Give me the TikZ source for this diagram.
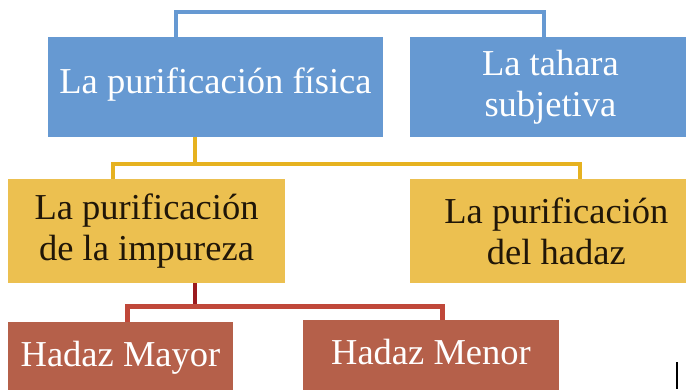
\documentclass[tikz,border=0pt]{standalone}
\usepackage{fontspec}
\setmainfont{Liberation Serif}
\usepackage{tikz}
\usetikzlibrary{positioning}

\definecolor{boxblue}{RGB}{102,153,210}
\definecolor{boxyellow}{RGB}{236,192,80}
\definecolor{lineyellow}{RGB}{230,178,32}
\definecolor{boxred}{RGB}{181,96,74}
\definecolor{linered}{RGB}{192,72,58}
\definecolor{stemred}{RGB}{155,26,30}
\definecolor{darktext}{RGB}{32,22,8}

\begin{document}
\begin{tikzpicture}[x=1pt, y=-1pt,
        box/.style={rectangle, inner sep=0pt, align=center, font=\fontsize{36.5}{40.7}\selectfont},
        bluebox/.style={box, fill=boxblue, text=white, minimum height=100pt},
        yellowbox/.style={box, fill=boxyellow, text=darktext, minimum height=104pt},
        redbox/.style={box, fill=boxred, text=white, text height=25pt, text depth=8pt},
        bluelink/.style={draw=boxblue, line width=4.8pt},
        yellowlink/.style={draw=lineyellow, line width=4.5pt},
        redlink/.style={draw=linered, line width=5pt}]
        \useasboundingbox (0,0) rectangle (686,389);
        \clip (0,0) rectangle (686,389);

        \node[bluebox, minimum width=335pt, text height=25pt, text depth=13pt] (fisica) at (215.5,87) {La purificación física};
        \node[bluebox, minimum width=280pt, right=27pt of fisica] (tahara) {La tahara\\subjetiva};
        \node[yellowbox, minimum width=277pt] (impureza) at (146.5,231) {La purificación\\de la impureza};
        \node[yellowbox, minimum width=292pt, right=125pt of impureza] (hadaz) {La purificación\\del hadaz};
        \node[redbox, minimum width=225pt, minimum height=72.4pt] (mayor) at (120.5,358.2) {Hadaz Mayor};
        \node[redbox, minimum width=256pt, minimum height=71pt] (menor) at (431,355.5) {Hadaz Menor};

        \coordinate (b1) at (176,12);
        \coordinate (b2) at (544,12);
        \coordinate (yj) at (195,164);
        \coordinate (y1) at (113,164);
        \coordinate (y2) at (580,164);
        \coordinate (rj) at (195,306);
        \coordinate (r1) at (127,306);
        \coordinate (r2) at (442,306);

        \draw[bluelink] (fisica.north -| b1) -- (b1) -- (b2) -- (tahara.north -| b2);
        \draw[yellowlink] (fisica.south -| yj) -- (yj);
        \draw[yellowlink] (impureza.north -| y1) -- (y1) -- (y2) -- (hadaz.north -| y2);
        \draw[draw=stemred, line width=4.7pt] (impureza.south -| rj) -- (rj);
        \draw[redlink] (mayor.north -| r1) -- (r1) -- (r2) -- (menor.north -| r2);

        \draw[line width=1.5pt] (677,362) -- (677,389);
    \end{tikzpicture}
\end{document}
